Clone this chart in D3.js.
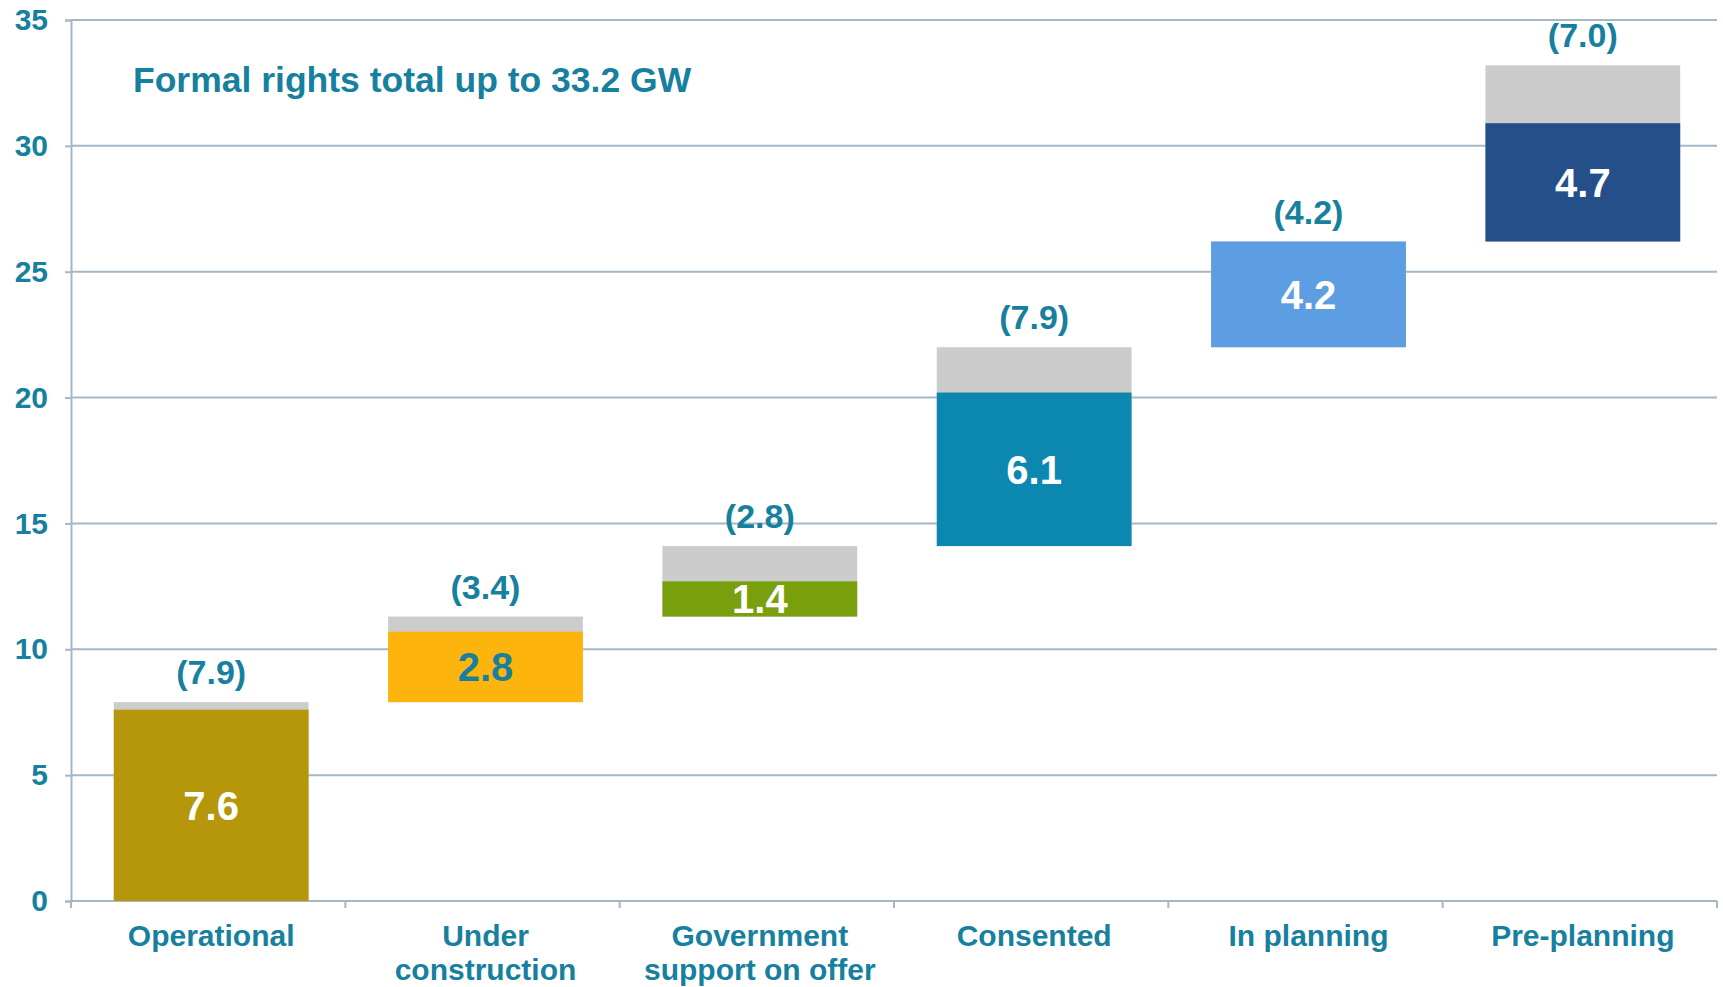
<!DOCTYPE html>
<html>
<head>
<meta charset="utf-8">
<script src="https://cdn.jsdelivr.net/npm/d3@7"></script>
<style>
  body { margin: 0; background: #fff; }
  text { font-family: "Liberation Sans", Arial, sans-serif; font-weight: bold; }
</style>
</head>
<body>
<div id="chart"></div>
<script>
// categories and values (GW)
var categories = [['Operational'], ['Under', 'construction'], ['Government', 'support on offer'],
                  ['Consented'], ['In planning'], ['Pre-planning']];
var formalRights = [7.6, 2.8, 1.4, 6.1, 4.2, 4.7];
var stageTotals = [7.9, 3.4, 2.8, 7.9, 4.2, 7.0];
var barColors = ['#b6970b', '#fdb50d', '#7a9f0c', '#0b87b0', '#5d9de2', '#254f88'];
var labelColors = ['#fff', '#17809f', '#fff', '#fff', '#fff', '#fff'];
var yTicks = [0, 5, 10, 15, 20, 25, 30, 35];
var title = 'Formal rights total up to 33.2 GW';

var teal = '#17809f';
var gridColor = '#a3b7c6';

var margin = { top: 20, right: 6, bottom: 86, left: 71 };
var width = 1723 - margin.left - margin.right;
var height = 987 - margin.top - margin.bottom;

var svg = d3.select('#chart').append('svg')
    .attr('width', width + margin.left + margin.right)
    .attr('height', height + margin.top + margin.bottom)
    .append('g')
    .attr('transform', 'translate(' + margin.left + ',' + margin.top + ')');

var x = d3.scaleBand()
    .domain(d3.range(categories.length))
    .range([0, width])
    .paddingInner(0.29)
    .paddingOuter(0.145);

var y = d3.scaleLinear().domain([0, 35]).range([height, 0]);

// bars sit a touch right of the band centre in the original
var nudge = 3;

// running base for each waterfall step
var bases = [];
var run = 0;
for (var i = 0; i < stageTotals.length; i++) {
    bases.push(run);
    run += stageTotals[i];
}

// gridlines
svg.append('g').selectAll('line')
    .data(yTicks)
    .join('line')
    .attr('x1', 0).attr('x2', width)
    .attr('y1', d => y(d)).attr('y2', d => y(d))
    .style('stroke', gridColor)
    .style('stroke-width', '2px');

// y axis
var yAxis = svg.append('g')
    .call(d3.axisLeft(y).tickValues(yTicks).tickSize(6).tickPadding(17));
yAxis.select('.domain').style('stroke', gridColor).style('stroke-width', '2px');
yAxis.selectAll('.tick line').style('stroke', gridColor).style('stroke-width', '2px');
yAxis.selectAll('.tick text')
    .style('fill', teal)
    .style('font-size', '30px')
    .style('font-family', '"Liberation Sans", Arial, sans-serif')
    .style('font-weight', 'bold');

// x axis ticks at category boundaries
var step = x.step();
var bounds = d3.range(categories.length + 1).map(d => d * step);
svg.append('g').selectAll('line')
    .data(bounds)
    .join('line')
    .attr('x1', d => d).attr('x2', d => d)
    .attr('y1', height).attr('y2', height + 7)
    .style('stroke', gridColor)
    .style('stroke-width', '2px');

var bars = svg.append('g').attr('transform', 'translate(' + nudge + ',0)');

// gray: full stage total
bars.append('g').selectAll('rect')
    .data(stageTotals)
    .join('rect')
    .attr('x', (d, i) => x(i))
    .attr('width', x.bandwidth())
    .attr('y', (d, i) => y(bases[i] + d))
    .attr('height', (d, i) => y(bases[i]) - y(bases[i] + d))
    .style('fill', '#cccccc');

// coloured: formal rights
bars.append('g').selectAll('rect')
    .data(formalRights)
    .join('rect')
    .attr('x', (d, i) => x(i))
    .attr('width', x.bandwidth())
    .attr('y', (d, i) => y(bases[i] + d))
    .attr('height', (d, i) => y(bases[i]) - y(bases[i] + d))
    .style('fill', (d, i) => barColors[i]);

// value labels inside bars
bars.append('g').selectAll('text')
    .data(formalRights)
    .join('text')
    .attr('x', (d, i) => x(i) + x.bandwidth() / 2)
    .attr('y', (d, i) => y(bases[i] + d / 2))
    .attr('dy', '0.36em')
    .attr('text-anchor', 'middle')
    .style('font-size', '40px')
    .style('fill', (d, i) => labelColors[i])
    .text(d => d.toFixed(1));

// total labels above bars
bars.append('g').selectAll('text')
    .data(stageTotals)
    .join('text')
    .attr('x', (d, i) => x(i) + x.bandwidth() / 2)
    .attr('y', (d, i) => y(bases[i] + d) - 18)
    .attr('text-anchor', 'middle')
    .style('font-size', '34px')
    .style('fill', teal)
    .text(d => '(' + d.toFixed(1) + ')');

// category labels
var cat = svg.append('g').selectAll('text')
    .data(categories)
    .join('text')
    .attr('x', (d, i) => x(i) + x.bandwidth() / 2 + nudge)
    .attr('y', height + 45)
    .attr('text-anchor', 'middle')
    .style('font-size', '30px')
    .style('fill', teal);
cat.selectAll('tspan')
    .data(d => d)
    .join('tspan')
    .attr('x', function () { return this.parentNode.getAttribute('x'); })
    .attr('dy', (d, j) => j === 0 ? 0 : 34)
    .text(d => d);

// title
svg.append('text')
    .attr('x', 62)
    .attr('y', 72)
    .style('font-size', '35.5px')
    .style('fill', teal)
    .text(title);
</script>
</body>
</html>
